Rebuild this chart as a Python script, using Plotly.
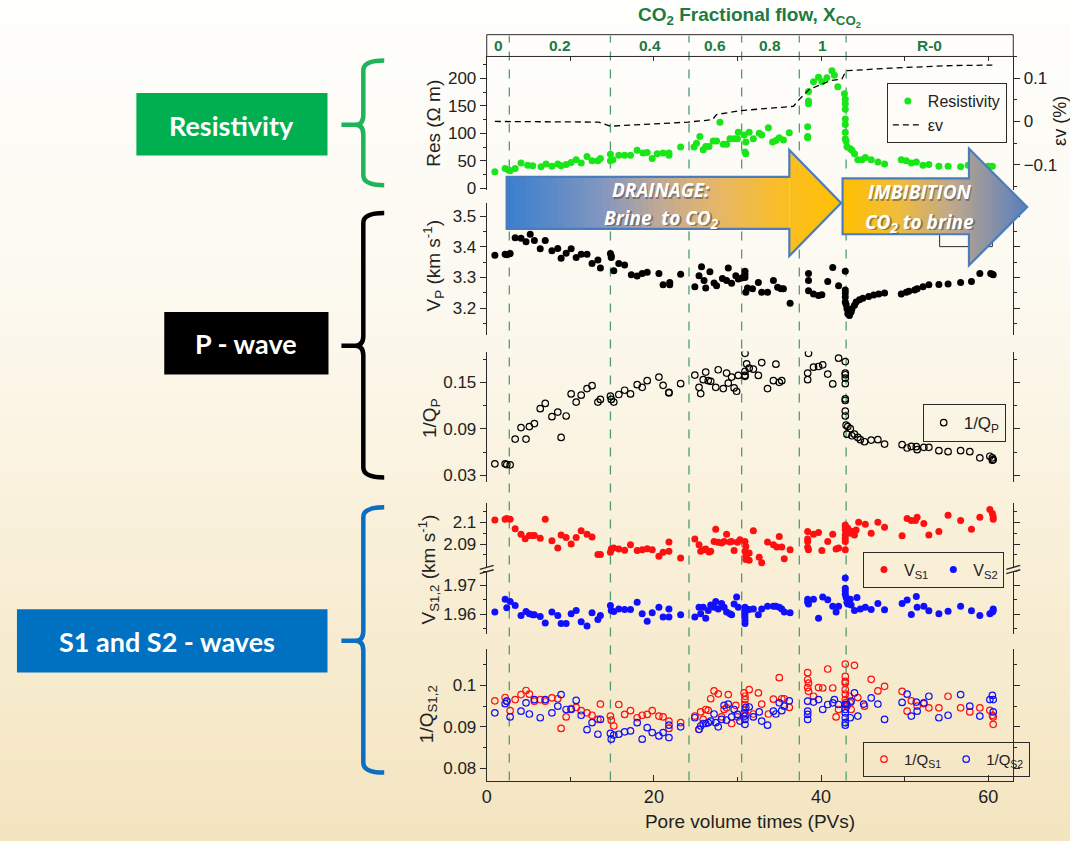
import plotly.graph_objects as go

W, H = 1070, 841

# ---------------------------------------------------------------- data
flow_edges = [0, 2.7, 14.8, 24.2, 30.5, 37.4, 43.0, 63.0]
flow_labels = ["0", "0.2", "0.4", "0.6", "0.8", "1", "R-0"]

res_pv = [0.97, 2.2, 2.6, 2.8, 3.4, 4.1, 4.9, 5.5, 6.5, 7.1, 7.8, 8.5, 8.9, 9.5, 10.1, 10.7, 11.3, 12.0,
          12.6, 13.3, 13.6, 14.8, 14.8, 15.1, 15.8, 16.5, 17.2, 18.0, 18.7, 19.2, 19.8, 20.4, 21.1, 21.8,
          21.8, 23.2, 24.8, 25.1, 25.5, 25.9, 26.2, 26.6, 27.1, 27.5, 27.9, 28.3, 28.7, 29.1, 29.6, 30.0,
          30.1, 30.8, 30.9, 31.0, 31.0, 31.4, 31.9, 32.6, 32.9, 33.7, 34.2, 34.6, 35.0, 35.5, 36.2, 38.4,
          38.4, 38.4, 38.5, 38.5, 38.5, 39.1, 39.7, 40.1, 40.7, 41.3, 41.6, 42.0, 42.8, 42.9, 42.9, 42.9,
          42.9, 42.9, 42.9, 42.9, 43.0, 43.1, 43.5, 43.7, 44.0, 44.4, 44.9, 45.3, 46.0, 46.8, 47.6, 49.6,
          50.2, 50.8, 51.4, 52.2, 52.9, 54.1, 55.2, 56.7, 57.6, 59.1, 60.0, 60.5]
res_ohm = [30, 36, 33, 32, 36, 46, 42, 41, 39, 44, 40, 44, 41, 43, 47, 52, 46, 58,
           50, 50, 54, 62, 50, 52, 60, 60, 60, 69, 64, 65, 54, 63, 64, 64,
           60, 75, 75, 82, 94, 70, 76, 76, 86, 86, 120, 80, 80, 90, 90, 90,
           102, 97, 66, 63, 84, 102, 90, 100, 97, 110, 84, 87, 92, 88, 101, 112,
           94, 92, 176, 159, 154, 194, 202, 194, 201, 214, 206, 185, 172, 162, 154, 144,
           126, 116, 102, 90, 86, 76, 72, 69, 63, 52, 52, 56, 52, 48, 44, 52,
           50, 46, 48, 42, 43, 40, 40, 39, 42, 39, 40, 40]

ev_pv = [0.97, 13.4, 14.8, 24.1, 27.0, 27.5, 30.4, 36.7, 37.4, 38.6, 41.1, 42.5, 43.0, 48.3, 55.6, 60.5]
ev_pct = [0.0, -0.0015, -0.011, -0.0015, 0.004, 0.016, 0.025, 0.035, 0.051, 0.074, 0.094, 0.098,
          0.117, 0.123, 0.129, 0.130]

vp_pv = [0.97, 2.2, 2.4, 2.8, 3.4, 4.1, 4.7, 5.2, 5.7, 6.4, 7.0, 7.8, 8.5, 8.9, 9.5, 10.1, 10.7, 11.3,
         12.0, 12.6, 13.3, 13.6, 14.8, 14.9, 14.9, 15.2, 15.8, 16.5, 17.3, 18.0, 18.6, 19.2, 20.6, 21.1,
         21.9, 21.9, 23.2, 24.9, 25.4, 25.7, 26.0, 26.2, 26.7, 27.2, 27.5, 28.2, 28.7, 28.9, 29.3, 29.8,
         30.1, 30.5, 30.9, 30.9, 30.9, 31.0, 31.2, 31.8, 32.5, 32.9, 33.6, 34.3, 34.8, 35.2, 35.5, 36.3,
         38.5, 38.5, 38.5, 39.1, 39.7, 40.1, 40.8, 41.4, 42.1, 42.9, 42.9, 42.9, 42.9, 42.9, 43.0, 43.1,
         43.2, 43.4, 43.6, 43.7, 44.0, 44.2, 44.6, 45.0, 45.7, 46.3, 46.9, 47.6, 49.6, 50.2, 50.5, 51.2,
         51.5, 52.2, 52.9, 54.1, 55.2, 56.7, 58.0, 59.0, 60.3, 60.5, 60.6]
vp_kms = [3.373, 3.376, 3.374, 3.378, 3.430, 3.428, 3.417, 3.441, 3.421, 3.394, 3.421, 3.387, 3.395,
          3.363, 3.379, 3.394, 3.365, 3.376, 3.376, 3.346, 3.357, 3.331, 3.378, 3.371, 3.365, 3.322,
          3.346, 3.341, 3.309, 3.305, 3.313, 3.317, 3.313, 3.276, 3.284, 3.276, 3.311, 3.270, 3.306,
          3.335, 3.290, 3.266, 3.319, 3.282, 3.273, 3.297, 3.290, 3.331, 3.281, 3.306, 3.295, 3.298,
          3.320, 3.311, 3.300, 3.252, 3.266, 3.263, 3.284, 3.252, 3.252, 3.290, 3.268, 3.263, 3.263,
          3.216, 3.313, 3.290, 3.257, 3.246, 3.241, 3.244, 3.287, 3.333, 3.273, 3.320, 3.259, 3.249,
          3.236, 3.220, 3.212, 3.198, 3.182, 3.176, 3.187, 3.198, 3.209, 3.220, 3.227, 3.232, 3.238,
          3.243, 3.246, 3.249, 3.246, 3.252, 3.255, 3.259, 3.263, 3.270, 3.276, 3.277, 3.279, 3.284,
          3.287, 3.313, 3.313, 3.311, 3.309]

qp_pv = [0.97, 2.2, 2.4, 2.8, 3.4, 4.1, 4.7, 5.1, 5.7, 6.4, 7.0, 7.8, 8.5, 8.9, 9.5, 10.1, 10.7, 11.3,
         12.0, 12.6, 13.3, 13.6, 14.8, 14.9, 15.2, 15.8, 16.5, 17.2, 18.0, 18.6, 19.2, 20.6, 21.1, 21.8,
         21.8, 23.2, 24.9, 25.4, 25.6, 25.9, 26.2, 26.5, 26.8, 27.4, 27.7, 28.3, 28.7, 28.9, 29.3, 29.6,
         29.9, 30.1, 30.9, 30.9, 30.9, 30.9, 31.1, 31.4, 31.9, 32.5, 32.9, 33.6, 34.3, 34.6, 35.0, 35.3,
         38.4, 38.4, 38.5, 39.1, 39.7, 40.2, 40.8, 41.4, 42.1, 42.9, 42.9, 42.9, 42.9, 42.9, 42.9, 42.9,
         42.9, 42.9, 43.0, 43.1, 43.2, 43.5, 43.7, 44.0, 44.4, 44.7, 45.2, 46.0, 46.8, 47.6, 49.7, 50.3,
         50.8, 51.4, 51.5, 52.3, 52.9, 54.1, 55.2, 56.7, 57.8, 59.0, 60.2, 60.5, 60.6, 60.5]
qp_inv = [0.0449, 0.0449, 0.0440, 0.0436, 0.0768, 0.0917, 0.0768, 0.0930, 0.0968, 0.1160, 0.1228,
          0.1057, 0.1117, 0.0789, 0.1066, 0.1351, 0.1245, 0.1334, 0.1419, 0.1457, 0.1245, 0.1279,
          0.1321, 0.1279, 0.1245, 0.1343, 0.1398, 0.1351, 0.1470, 0.1436, 0.1521, 0.1568, 0.1462,
          0.1372, 0.1364, 0.1483, 0.1594, 0.1436, 0.1355, 0.1534, 0.1632, 0.1521, 0.1513, 0.1436,
          0.1662, 0.1419, 0.1619, 0.1491, 0.1568, 0.1428, 0.1385, 0.1589, 0.1589, 0.1577, 0.1640,
          0.1874, 0.1738, 0.1683, 0.1670, 0.1589, 0.1755, 0.1419, 0.1521, 0.1734, 0.1500, 0.1521,
          0.1534, 0.1619, 0.1874, 0.1696, 0.1704, 0.1726, 0.1606, 0.1479, 0.1811, 0.1768, 0.1619,
          0.1598, 0.1555, 0.1483, 0.1287, 0.1266, 0.1130, 0.1066, 0.0947, 0.0832, 0.0930, 0.0904,
          0.0811, 0.0832, 0.0789, 0.0760, 0.0734, 0.0755, 0.0760, 0.0704, 0.0696, 0.0653, 0.0674,
          0.0670, 0.0632, 0.0662, 0.0662, 0.0619, 0.0606, 0.0619, 0.0606, 0.0526, 0.0547, 0.0526,
          0.0504, 0.0496]

vs1_pv = [0.97, 2.2, 2.4, 2.8, 3.4, 4.1, 4.6, 5.1, 5.5, 5.7, 6.4, 7.0, 7.8, 8.5, 8.9, 9.5, 10.1, 10.7,
          11.3, 12.0, 12.6, 13.3, 13.6, 14.8, 14.9, 15.2, 15.8, 16.5, 17.2, 18.0, 18.6, 19.2, 19.8,
          20.6, 21.1, 21.8, 21.8, 23.2, 24.9, 25.4, 25.6, 26.0, 26.2, 26.6, 26.8, 27.2, 27.4, 27.7,
          28.1, 28.4, 28.7, 29.1, 29.3, 29.6, 30.0, 30.3, 30.9, 31.0, 30.9, 31.0, 31.0, 31.4, 31.4,
          31.9, 32.6, 32.9, 33.6, 34.3, 34.7, 35.0, 35.3, 35.6, 36.3, 38.4, 38.4, 38.4, 38.4, 38.5,
          39.1, 39.7, 40.1, 40.8, 41.4, 41.8, 42.1, 42.9, 42.9, 42.9, 42.9, 42.9, 42.9, 42.9, 43.2,
          43.5, 43.7, 44.0, 44.2, 44.5, 45.3, 46.0, 46.8, 47.6, 49.7, 50.3, 50.8, 51.3, 51.5, 52.3,
          52.9, 54.1, 55.2, 56.7, 58.0, 59.0, 60.2, 60.5, 60.6, 60.6]
vs1_kms = [2.1011, 2.1014, 2.1018, 2.1014, 2.0970, 2.0945, 2.0924, 2.0939, 2.0939, 2.0939, 2.0927,
           2.1014, 2.0915, 2.0882, 2.0942, 2.0930, 2.0900, 2.0930, 2.0961, 2.0945, 2.0932, 2.0852,
           2.0852, 2.0862, 2.0877, 2.0882, 2.0877, 2.0871, 2.0897, 2.0870, 2.0874, 2.0879, 2.0874,
           2.0844, 2.0862, 2.0867, 2.0909, 2.0836, 2.0923, 2.0897, 2.0867, 2.0874, 2.0877, 2.0864,
           2.0867, 2.0912, 2.0968, 2.0908, 2.0905, 2.0912, 2.0945, 2.0909, 2.0912, 2.0870, 2.0908,
           2.0920, 2.0912, 2.0889, 2.0867, 2.0844, 2.0829, 2.0859, 2.0826, 2.0961, 2.0839, 2.0814,
           2.0909, 2.0897, 2.0886, 2.0935, 2.0886, 2.0832, 2.0874, 2.0958, 2.0923, 2.0912, 2.0885,
           2.0874, 2.0945, 2.0953, 2.0870, 2.0912, 2.0945, 2.0877, 2.0882, 2.0988, 2.0980, 2.0965,
           2.0942, 2.0927, 2.0912, 2.0874, 2.0973, 2.0950, 2.0958, 2.0942, 2.0965, 2.1000, 2.0991,
           2.0950, 2.1000, 2.0977, 2.0938, 2.1018, 2.1008, 2.1008, 2.1023, 2.0995, 2.0942, 2.0958,
           2.1033, 2.1008, 2.0968, 2.1023, 2.1059, 2.1041, 2.1026, 2.1014]

vs2_pv = [0.97, 2.2, 2.4, 2.8, 3.4, 4.1, 4.7, 5.1, 5.5, 5.7, 6.4, 7.0, 7.8, 8.5, 8.9, 9.5, 10.1, 10.7,
          11.3, 12.0, 12.6, 13.3, 13.6, 14.8, 14.9, 15.2, 15.8, 16.5, 17.2, 18.0, 18.6, 19.2, 19.8,
          20.6, 21.1, 21.8, 21.8, 23.2, 24.9, 25.4, 25.6, 25.9, 26.2, 26.5, 26.8, 27.2, 27.4, 27.7,
          28.1, 28.4, 28.7, 29.1, 29.3, 29.6, 29.9, 30.1, 30.9, 30.9, 30.9, 30.9, 30.9, 30.9, 31.0,
          31.4, 31.9, 32.5, 32.9, 33.6, 34.3, 34.6, 35.0, 35.3, 35.6, 36.3, 38.4, 38.4, 38.5, 39.1,
          39.7, 40.2, 40.8, 41.4, 41.8, 42.1, 42.9, 42.9, 42.9, 42.9, 43.0, 43.1, 43.2, 43.4, 43.5,
          43.6, 44.0, 44.3, 44.7, 45.3, 46.0, 46.8, 47.6, 49.7, 50.3, 50.8, 51.4, 51.5, 52.3, 52.9,
          54.1, 55.2, 56.7, 58.0, 59.0, 60.2, 60.5, 60.6, 60.6]
vs2_kms = [1.9607, 1.9652, 1.9622, 1.9644, 1.9630, 1.9595, 1.9609, 1.9601, 1.9598, 1.9598, 1.9592,
           1.9569, 1.9607, 1.9595, 1.9567, 1.9567, 1.9601, 1.9613, 1.9573, 1.9559, 1.9605, 1.9581,
           1.9595, 1.9630, 1.9613, 1.9609, 1.9618, 1.9616, 1.9616, 1.9641, 1.9601, 1.9575, 1.9605,
           1.9624, 1.9590, 1.9618, 1.9590, 1.9598, 1.9590, 1.9624, 1.9601, 1.9624, 1.9586, 1.9613,
           1.9632, 1.9624, 1.9644, 1.9618, 1.9637, 1.9624, 1.9607, 1.9601, 1.9598, 1.9635, 1.9660,
           1.9624, 1.9624, 1.9613, 1.9601, 1.9590, 1.9578, 1.9567, 1.9618, 1.9616, 1.9618, 1.9598,
           1.9618, 1.9627, 1.9627, 1.9627, 1.9624, 1.9618, 1.9607, 1.9605, 1.9652, 1.9641, 1.9635,
           1.9652, 1.9586, 1.9660, 1.9650, 1.9627, 1.9607, 1.9627, 1.9726, 1.9690, 1.9681, 1.9669,
           1.9658, 1.9641, 1.9635, 1.9647, 1.9652, 1.9632, 1.9613, 1.9658, 1.9618, 1.9624, 1.9616,
           1.9637, 1.9615, 1.9637, 1.9649, 1.9599, 1.9661, 1.9624, 1.9627, 1.9612, 1.9601, 1.9610,
           1.9627, 1.9612, 1.9595, 1.9601, 1.9607, 1.9618, 1.9612]

qs1_pv = [0.97, 2.2, 2.4, 2.8, 3.4, 4.1, 4.7, 5.1, 5.7, 6.4, 7.0, 7.8, 8.5, 8.9, 9.5, 10.1, 10.7, 11.3,
          12.0, 12.6, 13.3, 13.6, 14.8, 14.9, 15.2, 15.8, 16.5, 17.2, 18.0, 18.6, 19.2, 19.8, 20.6,
          21.1, 21.8, 21.8, 23.2, 24.9, 25.4, 25.6, 25.9, 26.2, 26.5, 26.8, 27.2, 27.7, 28.1, 28.4,
          28.7, 28.9, 29.3, 29.8, 30.0, 30.8, 30.9, 30.9, 30.9, 30.9, 31.0, 31.4, 31.9, 32.5, 32.9,
          33.7, 34.3, 35.0, 35.3, 35.6, 36.2, 38.4, 38.4, 38.4, 38.5, 38.5, 39.1, 39.7, 40.2, 40.8,
          41.4, 41.8, 42.1, 42.9, 42.9, 42.9, 42.9, 42.9, 42.9, 42.9, 42.9, 43.0, 43.1, 43.4, 43.5,
          43.6, 44.0, 44.4, 45.2, 46.0, 46.8, 47.6, 49.7, 50.3, 50.8, 51.5, 52.3, 52.9, 54.1, 55.2,
          56.7, 57.8, 59.0, 60.2, 60.5, 60.6, 60.6]
qs1_inv = [0.0963, 0.0971, 0.0962, 0.0939, 0.0966, 0.0978, 0.0988, 0.0979, 0.0962, 0.0966, 0.0962,
           0.0970, 0.0968, 0.0896, 0.0924, 0.0944, 0.0947, 0.0939, 0.0934, 0.0928, 0.0918, 0.0955,
           0.0926, 0.0916, 0.0902, 0.0954, 0.0930, 0.0939, 0.0922, 0.0928, 0.0930, 0.0939, 0.0926,
           0.0924, 0.0914, 0.0896, 0.0910, 0.0926, 0.0894, 0.0936, 0.0918, 0.0942, 0.0940, 0.0968,
           0.0987, 0.0980, 0.0924, 0.0942, 0.0946, 0.0978, 0.0908, 0.0952, 0.0924, 0.0982, 0.0974,
           0.0966, 0.0954, 0.0942, 0.0930, 0.0990, 0.0931, 0.0982, 0.0955, 0.0931, 0.0967, 0.1019,
           0.0968, 0.0968, 0.0947, 0.1031, 0.1014, 0.0995, 0.0986, 0.1006, 0.0974, 0.0995, 0.0994,
           0.1040, 0.0994, 0.0924, 0.0942, 0.1052, 0.1022, 0.1010, 0.1006, 0.0990, 0.0979, 0.0966,
           0.0954, 0.0959, 0.0950, 0.0974, 0.0958, 0.0942, 0.1049, 0.0971, 0.0950, 0.1015, 0.0987,
           0.0998, 0.0986, 0.0938, 0.0963, 0.0950, 0.0956, 0.0946, 0.0946, 0.0974, 0.0946, 0.0936,
           0.0946, 0.0940, 0.0928, 0.0924, 0.0906]

qs2_pv = [0.97, 2.2, 2.4, 2.8, 4.1, 4.7, 5.1, 5.7, 6.4, 7.0, 7.8, 8.5, 8.9, 9.5, 10.1, 10.7, 11.3, 12.0,
          12.6, 13.3, 13.6, 14.8, 14.9, 15.2, 15.8, 16.5, 17.2, 18.0, 18.6, 19.2, 19.8, 20.6, 21.1,
          21.8, 21.8, 23.2, 24.9, 25.4, 25.6, 25.9, 26.2, 26.5, 26.8, 27.2, 27.4, 27.7, 28.1, 28.4,
          28.7, 28.9, 29.3, 29.6, 30.0, 30.3, 30.8, 30.9, 30.9, 30.9, 31.0, 31.4, 31.9, 32.6, 32.9,
          33.6, 34.3, 34.6, 35.0, 35.3, 35.6, 36.2, 38.4, 38.4, 38.4, 38.4, 39.1, 39.7, 40.2, 40.8,
          41.4, 41.6, 42.1, 42.9, 42.9, 42.9, 42.9, 42.9, 42.9, 43.1, 43.5, 43.6, 44.0, 44.4, 45.1,
          46.0, 46.8, 47.6, 49.7, 50.3, 50.8, 51.4, 51.5, 52.3, 52.9, 54.1, 55.2, 56.7, 57.8, 59.0,
          60.2, 60.5, 60.6, 60.6]
qs2_inv = [0.0934, 0.0956, 0.0962, 0.0924, 0.0938, 0.0958, 0.0931, 0.0966, 0.0922, 0.0966, 0.0934,
           0.0950, 0.0978, 0.0942, 0.0942, 0.0964, 0.0928, 0.0893, 0.0910, 0.0882, 0.0918, 0.0884,
           0.0870, 0.0880, 0.0882, 0.0888, 0.0890, 0.0910, 0.0870, 0.0898, 0.0886, 0.0878, 0.0886,
           0.0874, 0.0904, 0.0900, 0.0922, 0.0894, 0.0902, 0.0908, 0.0908, 0.0910, 0.0914, 0.0931,
           0.0910, 0.0900, 0.0918, 0.0952, 0.0916, 0.0955, 0.0924, 0.0942, 0.0930, 0.0914, 0.0934,
           0.0926, 0.0918, 0.0906, 0.0947, 0.0948, 0.0924, 0.0936, 0.0914, 0.0904, 0.0938, 0.0931,
           0.0958, 0.0939, 0.0950, 0.0963, 0.0962, 0.0938, 0.0930, 0.0918, 0.0960, 0.0966, 0.0942,
           0.0954, 0.0958, 0.0966, 0.0954, 0.0954, 0.0942, 0.0934, 0.0922, 0.0910, 0.0904, 0.0954,
           0.0922, 0.0962, 0.0982, 0.0926, 0.0955, 0.0970, 0.0955, 0.0918, 0.0959, 0.0979, 0.0926,
           0.0960, 0.0938, 0.0958, 0.0974, 0.0922, 0.0928, 0.0978, 0.0950, 0.0926, 0.0966, 0.0976,
           0.0966, 0.0936]

# ---------------------------------------------------------------- helpers
def PX(x):
    return x / W


def PY(y):
    return 1 - y / H


def pt(x, y):
    return "%.5f,%.5f" % (PX(x), PY(y))


def poly(points):
    return "M " + " L ".join(pt(x, y) for x, y in points) + " Z"


def lerp_color(stops, t):
    t = max(0.0, min(1.0, t))
    for i in range(len(stops) - 1):
        t0, c0 = stops[i]
        t1, c1 = stops[i + 1]
        if t <= t1:
            f = (t - t0) / (t1 - t0) if t1 > t0 else 0
            c = [round(c0[k] + (c1[k] - c0[k]) * f) for k in range(3)]
            return "rgb(%d,%d,%d)" % tuple(c)
    return "rgb(%d,%d,%d)" % tuple(stops[-1][1])


FONT = "Liberation Sans, Arial, sans-serif"
AX = "#2a2a2a"
GREEN_T = "#1d7a43"
DASH_G = "#4f9c74"

XDOM = [PX(484), PX(1013)]
XR = [0, 63]

fig = go.Figure()

# ---------------------------------------------------------------- traces
fig.add_trace(go.Scatter(x=res_pv, y=res_ohm, mode="markers", name="Resistivity",
                         marker=dict(color="#19e619", size=7), xaxis="x", yaxis="y",
                         legend="legend"))
fig.add_trace(go.Scatter(x=ev_pv, y=ev_pct, mode="lines", name="\u03b5v",
                         line=dict(color="black", dash="6px,4px", width=1.3), xaxis="x", yaxis="y7",
                         legend="legend"))
fig.add_trace(go.Scatter(x=vp_pv, y=vp_kms, mode="markers", name="V<sub>P</sub>",
                         marker=dict(color="black", size=7), xaxis="x2", yaxis="y2",
                         showlegend=False))
fig.add_trace(go.Scatter(x=qp_pv, y=qp_inv, mode="markers", name="1/Q<sub>P</sub>",
                         marker=dict(color="black", size=6.5, symbol="circle-open",
                                     line=dict(width=1.2)),
                         xaxis="x3", yaxis="y3", legend="legend2"))
fig.add_trace(go.Scatter(x=vs1_pv, y=vs1_kms, mode="markers", name="V<sub>S1</sub>",
                         marker=dict(color="#ff1010", size=7), xaxis="x4", yaxis="y4",
                         legend="legend3"))
fig.add_trace(go.Scatter(x=vs2_pv, y=vs2_kms, mode="markers", name="V<sub>S2</sub>",
                         marker=dict(color="#1010ff", size=7), xaxis="x5", yaxis="y5",
                         legend="legend3"))
fig.add_trace(go.Scatter(x=qs1_pv, y=qs1_inv, mode="markers", name="1/Q<sub>S1</sub>",
                         marker=dict(color="#ff1010", size=6.5, symbol="circle-open",
                                     line=dict(width=1.2)),
                         xaxis="x6", yaxis="y6", legend="legend4"))
fig.add_trace(go.Scatter(x=qs2_pv, y=qs2_inv, mode="markers", name="1/Q<sub>S2</sub>",
                         marker=dict(color="#1010ff", size=6.5, symbol="circle-open",
                                     line=dict(width=1.2)),
                         xaxis="x6", yaxis="y6", legend="legend4"))

# ---------------------------------------------------------------- axes
TF = dict(family=FONT, size=17, color="#222")
common_x = dict(domain=XDOM, range=XR, showgrid=False, zeroline=False, showline=False,
                ticks="", showticklabels=False)
common_y = dict(showgrid=False, zeroline=False, showline=True, linecolor=AX, linewidth=1,
                ticks="outside", ticklen=6, tickcolor=AX, mirror="ticks", tickfont=TF)


def minor(d=None, vals=None):
    m = dict(ticks="outside", ticklen=3, tickcolor=AX)
    if vals is not None:
        m["tickvals"] = vals
    else:
        m["dtick"] = d
    return m


layout_axes = dict(
    xaxis=dict(common_x, anchor="y", side="top", ticks="inside", ticklen=5, dtick=10, tick0=0,
               tickcolor=AX),
    xaxis2=dict(common_x, anchor="y2", matches="x"),
    xaxis3=dict(common_x, anchor="y3", matches="x"),
    xaxis4=dict(common_x, anchor="y4", matches="x"),
    xaxis5=dict(common_x, anchor="y5", matches="x"),
    xaxis6=dict(common_x, anchor="y6", matches="x", showline=True, linecolor=AX, linewidth=1,
                ticks="inside", ticklen=6, tickcolor=AX, dtick=20, tick0=0,
                showticklabels=True, tickfont=dict(family=FONT, size=18, color="#222"),
                minor=dict(dtick=10, ticks="inside", ticklen=4, tickcolor=AX),
                title=dict(text="Pore volume times (PVs)", standoff=8,
                           font=dict(family=FONT, size=19, color="#222"))),
    yaxis=dict(common_y, domain=[PY(191.7), PY(57)], range=[-3, 240], dtick=50, tick0=0,
               minor=minor(25), mirror=False, anchor="x"),
    yaxis7=dict(common_y, overlaying="y", side="right", anchor="x", range=[-0.158, 0.150],
                dtick=0.1, tick0=0, minor=minor(0.05), mirror=False),
    yaxis2=dict(common_y, domain=[PY(338), PY(205)], range=[3.113, 3.543], dtick=0.1, tick0=3.2,
                minor=minor(0.05), anchor="x2"),
    yaxis3=dict(common_y, domain=[PY(486.7), PY(355)], range=[0.0214, 0.1896], dtick=0.06,
                tick0=0.03, minor=minor(0.03), anchor="x3"),
    yaxis4=dict(common_y, domain=[PY(573), PY(508)], range=[2.0792, 2.1088],
                tickvals=[2.09, 2.1], ticktext=["2.09", "2.1"],
                minor=minor(vals=[2.085, 2.095, 2.105]), anchor="x4"),
    yaxis5=dict(common_y, domain=[PY(640), PY(576)], range=[1.9531, 1.9752],
                tickvals=[1.96, 1.97], ticktext=["1.96", "1.97"],
                minor=minor(vals=[1.955, 1.965, 1.975]), anchor="x5"),
    yaxis6=dict(common_y, domain=[PY(788), PY(655)], range=[0.077, 0.1089], dtick=0.01,
                tick0=0.08, minor=minor(0.005), anchor="x6"),
)

# ---------------------------------------------------------------- shapes
shapes = []

# background gradient
bg_stops = [(0.0, (254, 254, 252)), (0.35, (252, 249, 240)), (0.65, (249, 240, 217)),
            (1.0, (244, 229, 193))]
n_bg = 70
for i in range(n_bg):
    y0 = H * i / n_bg - (10 if i == 0 else 0)
    y1 = H * (i + 1) / n_bg + (12 if i == n_bg - 1 else 1)
    shapes.append(dict(type="rect", xref="paper", yref="paper", x0=-0.02, x1=1.02, y0=PY(y1),
                       y1=PY(y0), fillcolor=lerp_color(bg_stops, (i + 0.5) / n_bg),
                       line=dict(width=0), layer="below"))

# dashed boundaries of the fractional-flow stages
for e in flow_edges[1:-1]:
    shapes.append(dict(type="line", xref="x", yref="paper", x0=e, x1=e, y0=PY(788), y1=PY(36),
                       line=dict(color=DASH_G, width=1.3, dash="dash"), layer="below"))

# header box
shapes.append(dict(type="rect", xref="paper", yref="paper", x0=XDOM[0], x1=XDOM[1], y0=PY(57),
                   y1=PY(35), line=dict(color=AX, width=1), fillcolor="rgba(0,0,0,0)",
                   layer="above"))

# axis-break marks (V_S panel)
for bx in (484, 1013):
    for dy in (-2.2, 2.2):
        shapes.append(dict(type="line", xref="paper", yref="paper", x0=PX(bx - 7),
                           y0=PY(575 + dy + 2), x1=PX(bx + 7), y1=PY(575 + dy - 2),
                           line=dict(color=AX, width=1.4), layer="above"))

# partially hidden V_P legend box
shapes.append(dict(type="rect", xref="paper", yref="paper", x0=PX(939), x1=PX(992), y0=PY(249),
                   y1=PY(215), line=dict(color=AX, width=1), fillcolor="rgba(0,0,0,0)",
                   layer="above"))


def arrow(x0, xh, xt, bt, bb, ht, hb, ty, stops, n_body=44, n_head=18):
    out = []

    def top(x):
        return ht + (ty - ht) * (x - xh) / (xt - xh)

    def bot(x):
        return hb + (ty - hb) * (x - xh) / (xt - xh)

    for i in range(n_body):
        xa = x0 + (xh - x0) * i / n_body
        xb = min(x0 + (xh - x0) * (i + 1) / n_body + 0.8, xh)
        c = lerp_color(stops, ((xa + xb) / 2 - x0) / (xt - x0))
        out.append(dict(type="path", xref="paper", yref="paper",
                        path=poly([(xa, bt), (xb, bt), (xb, bb), (xa, bb)]),
                        fillcolor=c, line=dict(width=0), layer="above"))
    for i in range(n_head):
        xa = xh + (xt - xh) * i / n_head
        xb = min(xh + (xt - xh) * (i + 1) / n_head + 0.8, xt)
        c = lerp_color(stops, ((xa + xb) / 2 - x0) / (xt - x0))
        out.append(dict(type="path", xref="paper", yref="paper",
                        path=poly([(xa, top(xa)), (xb, top(xb)), (xb, bot(xb)), (xa, bot(xa))]),
                        fillcolor=c, line=dict(width=0), layer="above"))
    out.append(dict(type="path", xref="paper", yref="paper",
                    path=poly([(x0, bt), (xh, bt), (xh, ht), (xt, ty), (xh, hb), (xh, bb), (x0, bb)]),
                    fillcolor="rgba(0,0,0,0)", line=dict(color="#4a7dbd", width=2.2),
                    layer="above"))
    return out


drain_stops = [(0.0, (58, 126, 206)), (0.28, (128, 150, 192)), (0.45, (190, 168, 152)),
               (0.62, (228, 182, 108)), (0.82, (250, 190, 40)), (1.0, (255, 192, 0))]
imb_stops = [(0.0, (255, 192, 0)), (0.3, (240, 188, 60)), (0.6, (190, 168, 140)),
             (1.0, (88, 126, 190))]
shapes += arrow(504, 788, 840, 178.5, 231, 151.5, 258.5, 205, drain_stops)
shapes += arrow(841.5, 968.5, 1027, 180, 236.5, 150, 268, 209, imb_stops)

# left-hand label boxes
label_boxes = [(132, 94, 324, 157, "#00b050"), (160, 315, 325, 378, "#000000"),
               (12, 615, 324, 679, "#0070c0")]
for x0, y0, x1, y1, c in label_boxes:
    shapes.append(dict(type="rect", xref="paper", yref="paper", x0=PX(x0), x1=PX(x1), y0=PY(y1),
                       y1=PY(y0), fillcolor=c, line=dict(width=0), layer="above"))


def brace(top, bot, mid, color):
    xv, xr, xl, r = 360, 381, 338, 10

    def p(x, y):
        return "%.5f,%.5f" % (PX(x), PY(y))

    path = ("M %s Q %s %s L %s Q %s %s L %s M %s Q %s %s L %s Q %s %s" % (
        p(xr, top), p(xv, top), p(xv, top + r), p(xv, mid - r), p(xv, mid), p(xv - 8, mid),
        p(xl, mid), p(xv - 8, mid), p(xv, mid), p(xv, mid + r), p(xv, bot - r), p(xv, bot),
        p(xr, bot)))
    return dict(type="path", xref="paper", yref="paper", path=path,
                line=dict(color=color, width=4.5), layer="above")


shapes.append(brace(61, 187, 126, "#1fb35a"))
shapes.append(brace(215, 482, 349, "#000000"))
shapes.append(brace(512, 780, 647, "#0a6fc2"))

# ---------------------------------------------------------------- annotations
ann = []


def A(text, x, y, size, color, angle=0, family=FONT, xref="paper", yref="paper"):
    ann.append(dict(text=text, x=x, y=y, xref=xref, yref=yref, showarrow=False,
                    xanchor="center", yanchor="middle", textangle=angle,
                    font=dict(family=family, size=size, color=color)))


A("<b>CO<sub>2</sub> Fractional flow, X<sub>CO<sub>2</sub></sub></b>", PX(748), PY(17), 19, GREEN_T)
for i, lab in enumerate(flow_labels):
    A("<b>%s</b>" % lab, (flow_edges[i] + flow_edges[i + 1]) / 2, PY(46), 15.5, GREEN_T, xref="x")

A("Res (\u03a9 m)", PX(431), PY(124), 19, "#222", angle=-90)
A("\u03b5v (%)", PX(1060), PY(122), 18, "#222", angle=-90)
A("V<sub>P</sub> (km s<sup>-1</sup>)", PX(430), PY(268), 19, "#222", angle=-90)
A("1/Q<sub>P</sub>", PX(428), PY(422), 19, "#222", angle=-90)
A("V<sub>S1,2</sub> (km s<sup>-1</sup>)", PX(426), PY(575), 19, "#222", angle=-90)
A("1/Q<sub>S1,2</sub>", PX(425), PY(721), 19, "#222", angle=-90)

ARF = "Open Sans, DejaVu Sans, sans-serif"
for txt, x, y, s in [("<b><i>DRAINAGE:</i></b>", 659, 192, 19),
                     ("<b><i>Brine  to CO<sub>2</sub></i></b>", 660, 221, 19),
                     ("<b><i>IMBIBITION</i></b>", 919, 194, 19),
                     ("<b><i>CO<sub>2</sub> to brine</i></b>", 919, 225, 19)]:
    A(txt, PX(x + 1.5), PY(y + 1.5), s, "rgba(70,70,70,0.55)", family=ARF)
    A(txt, PX(x), PY(y), s, "white", family=ARF)

LBF = "Lato, Open Sans, sans-serif"
A("<b>Resistivity</b>", PX(228), PY(127), 27, "white", family=LBF)
A("<b>P - wave</b>", PX(242), PY(347), 27, "white", family=LBF)
A("<b>S1 and S2 - waves</b>", PX(163), PY(648), 27, "white", family=LBF)

# ---------------------------------------------------------------- legends
leg_common = dict(bgcolor="rgba(0,0,0,0)", bordercolor=AX, borderwidth=1,
                  xanchor="left", yanchor="top", tracegroupgap=0, itemsizing="trace")

fig.update_layout(
    width=W, height=H, margin=dict(l=0, r=0, t=0, b=0), autosize=False,
    paper_bgcolor="rgb(254,254,252)", plot_bgcolor="rgba(0,0,0,0)",
    shapes=shapes, annotations=ann,
    legend=dict(leg_common, x=PX(886), y=PY(84), font=dict(family=FONT, size=16, color="#222")),
    legend2=dict(leg_common, x=PX(922), y=PY(408), font=dict(family=FONT, size=17, color="#222")),
    legend3=dict(leg_common, x=PX(862), y=PY(557), orientation="h",
                 font=dict(family=FONT, size=16, color="#222")),
    legend4=dict(leg_common, x=PX(862), y=PY(749), orientation="h",
                 font=dict(family=FONT, size=15, color="#222")),
    **layout_axes,
)

fig.write_html("out.html")
